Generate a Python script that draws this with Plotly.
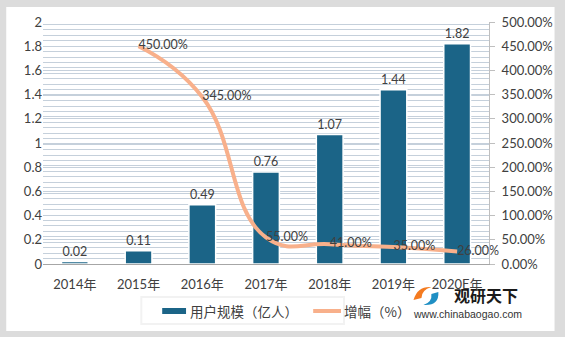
import plotly.graph_objects as go

years = ["2014年", "2015年", "2016年", "2017年", "2018年", "2019年", "2020E年"]
users = [0.02, 0.11, 0.49, 0.76, 1.07, 1.44, 1.82]
growth_years = ["2015年", "2016年", "2017年", "2018年", "2019年", "2020E年"]
growth = [450.0, 345.0, 55.0, 41.0, 35.0, 26.0]
left_ticks = [0, 0.2, 0.4, 0.6, 0.8, 1, 1.2, 1.4, 1.6, 1.8, 2]
bar_name = "用户规模（亿人）"
line_name = "增幅（%）"

W, H = 565, 337
ML, MR, MT, MB = 43, 73, 22, 73
PW, PH = W - ML - MR, H - MT - MB

def px(x):
    return (x - ML) / PW

def py(y):
    return 1 - (y - MT) / PH

FONT = "Lato, 'Noto Sans CJK SC', sans-serif"
CJK = "'Noto Sans CJK SC', sans-serif"
TXT = "#404040"
BAR_C = "#1b6487"
LINE_C = "#f8b08b"

fig = go.Figure()
fig.add_trace(go.Bar(
    x=years, y=users, name=bar_name,
    marker=dict(color=BAR_C, line=dict(color="white", width=1.5)),
    width=0.42,
    text=[f"{v:.2f}" for v in users], textposition="outside",
    textfont=dict(size=12.5, color=TXT, family=FONT), cliponaxis=False,
))
fig.add_trace(go.Scatter(
    x=growth_years, y=growth, name=line_name, yaxis="y2",
    mode="lines+text",
    line=dict(color=LINE_C, width=4, shape="spline", smoothing=1.3),
    text=[f"{v:.2f}%" for v in growth], textposition="middle right",
    textfont=dict(size=12.5, color=TXT, family=FONT), cliponaxis=False,
))

shapes = [
    dict(type="rect", xref="paper", yref="paper",
         x0=px(6), x1=px(558), y0=py(331), y1=py(7),
         fillcolor="white", line=dict(width=0), layer="below"),
    # legend box shadow + box
    dict(type="rect", xref="paper", yref="paper",
         x0=px(141), x1=px(347), y0=py(325), y1=py(296),
         fillcolor="#f2f2f2", line=dict(width=0), layer="below"),
    dict(type="rect", xref="paper", yref="paper",
         x0=px(143), x1=px(345), y0=py(323), y1=py(298),
         fillcolor="white", line=dict(width=0), layer="below"),
    # legend symbols
    dict(type="rect", xref="paper", yref="paper",
         x0=px(163), x1=px(187), y0=py(314), y1=py(308),
         fillcolor=BAR_C, line=dict(width=0)),
    dict(type="line", xref="paper", yref="paper",
         x0=px(315), x1=px(343), y0=py(311), y1=py(311),
         line=dict(color=LINE_C, width=4)),
    # logo icon
    dict(type="path", xref="paper", yref="paper",
         path=f"M {px(416)},{py(300)} Q {px(420)},{py(286)} {px(434)},{py(287)} Q {px(424)},{py(290)} {px(424)},{py(298)} Z",
         fillcolor="#f47b20", line=dict(width=0)),
    dict(type="path", xref="paper", yref="paper",
         path=f"M {px(441)},{py(292)} Q {px(442)},{py(306)} {px(426)},{py(305)} Q {px(435)},{py(302)} {px(434)},{py(294)} Z",
         fillcolor="#1f8fc4", line=dict(width=0)),
]

annotations = [
    dict(text=bar_name, xref="paper", yref="paper", x=px(189), y=py(311),
         xanchor="left", yanchor="middle", showarrow=False,
         font=dict(size=13.5, color=TXT, family=CJK)),
    dict(text=line_name, xref="paper", yref="paper", x=px(344), y=py(311),
         xanchor="left", yanchor="middle", showarrow=False,
         font=dict(size=13.5, color=TXT, family=CJK)),
    dict(text="<b>观研天下</b>", xref="paper", yref="paper", x=px(455), y=py(295),
         xanchor="left", yanchor="middle", showarrow=False,
         font=dict(size=16, color="#1a1a1a", family=CJK)),
    dict(text="www.chinabaogao.com", xref="paper", yref="paper", x=px(413), y=py(314),
         xanchor="left", yanchor="middle", showarrow=False,
         font=dict(size=10.5, color="#333333", family="Liberation Sans, sans-serif")),
]

fig.update_layout(
    width=W, height=H, margin=dict(l=ML, r=MR, t=MT, b=MB),
    paper_bgcolor="#dcdcdc", plot_bgcolor="#f1f5f9",
    font=dict(family=FONT, color=TXT, size=13),
    showlegend=False,
    xaxis=dict(showline=True, linecolor="#a6a6a6", linewidth=1, ticks="",
               ticklabelstandoff=8,
               tickfont=dict(size=13, color=TXT, family=FONT), showgrid=False),
    yaxis=dict(range=[0, 2], tickvals=left_ticks,
               ticktext=[f"{v:g}" for v in left_ticks],
               showgrid=True, gridcolor="#c5d0db", gridwidth=1,
               minor=dict(dtick=0.045, showgrid=True, gridcolor="#c5d0db", gridwidth=1),
               showline=False, zeroline=False, ticks="",
               tickfont=dict(size=13, color=TXT, family=FONT)),
    yaxis2=dict(range=[0, 500], dtick=50, overlaying="y", side="right",
                tickformat=".2f", ticksuffix="%", showgrid=False, zeroline=False,
                showline=True, linecolor="#bfbfbf", ticks="outside", ticklen=5,
                tickcolor="#bfbfbf", ticklabelstandoff=4,
                tickfont=dict(size=13, color=TXT, family=FONT)),
    shapes=shapes, annotations=annotations,
)

fig.write_html("out.html")
